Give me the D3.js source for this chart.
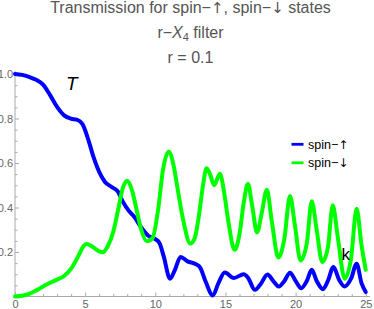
<!DOCTYPE html>
<html><head><meta charset="utf-8">
<script src="https://cdn.jsdelivr.net/npm/d3@7"></script>
<style>body{margin:0;background:#fff}svg{display:block}</style>
</head><body>
<svg id="chart" width="374" height="309"></svg>
<script>
const titleLines = ["Transmission for spin\u2212\u2191, spin\u2212\u2193 states", "r\u2212X4 filter", "r = 0.1"];
const xTicks = [0, 5, 10, 15, 20, 25];
const yTicks = [0.2, 0.4, 0.6, 0.8, 1.0];
const seriesNames = ["spin\u2212\u2191", "spin\u2212\u2193"];
const seriesColors = ["#0000ff", "#00ff00"];

// spin-up transmission [k, T]
const spinUp = [
 [0,1.0],[0.5,0.996],[1.0,0.987],[1.5,0.974],[2.0,0.952],[2.5,0.905],[3.0,0.852],[3.5,0.814],
 [4.0,0.799],[4.4,0.795],[4.8,0.776],[5.2,0.71],[5.6,0.626],[6.0,0.56],[6.4,0.516],[6.9,0.492],
 [7.3,0.474],[7.7,0.425],[8.1,0.386],[8.5,0.358],[9.0,0.31],[9.5,0.273],[10.0,0.258],[10.3,0.24],
 [10.6,0.18],[11.05,0.08],[11.4,0.12],[11.8,0.178],[12.3,0.158],[12.9,0.145],[13.2,0.13],[13.6,0.065],
 [14.1,0.005],[14.5,0.06],[14.95,0.108],[15.6,0.083],[16.3,0.1],[16.6,0.085],[17.1,0.03],[17.5,0.055],
 [18.0,0.099],[18.4,0.07],[18.8,0.045],[19.2,0.07],[19.6,0.107],[20.0,0.07],[20.4,0.037],[20.8,0.07],
 [21.15,0.12],[21.5,0.07],[21.95,0.033],[22.3,0.07],[22.7,0.133],[23.1,0.075],[23.5,0.045],[23.95,0.08],
 [24.35,0.147],[24.7,0.06],[25.0,0.02]
];
// spin-down transmission [k, T]
const spinDown = [
 [0,0.0],[0.5,0.003],[1.0,0.012],[1.5,0.027],[2.0,0.045],[2.5,0.062],[3.0,0.076],[3.5,0.092],
 [4.0,0.125],[4.5,0.18],[4.9,0.228],[5.1,0.236],[5.5,0.225],[6.0,0.203],[6.25,0.199],[6.6,0.225],
 [7.0,0.29],[7.35,0.39],[7.7,0.49],[8.0,0.52],[8.35,0.475],[8.7,0.38],[9.0,0.3],[9.4,0.248],
 [9.8,0.262],[10.2,0.39],[10.55,0.57],[10.95,0.651],[11.3,0.59],[11.6,0.48],[12.0,0.34],[12.5,0.238],
 [12.8,0.26],[13.1,0.36],[13.4,0.5],[13.65,0.576],[13.9,0.55],[14.2,0.5],[14.6,0.552],[14.9,0.47],
 [15.2,0.34],[15.65,0.21],[16.0,0.28],[16.3,0.42],[16.6,0.507],[16.9,0.41],[17.25,0.288],[17.6,0.38],
 [17.95,0.48],[18.3,0.34],[18.77,0.175],[19.2,0.26],[19.6,0.452],[19.95,0.32],[20.35,0.162],[20.8,0.24],
 [21.15,0.428],[21.5,0.3],[21.9,0.155],[22.3,0.22],[22.65,0.41],[23.0,0.27],[23.5,0.08],[23.95,0.17],
 [24.35,0.394],[24.7,0.23],[25.0,0.12]
];

const svg = d3.select("#chart");
const x = d3.scaleLinear().domain([0, 25]).range([15, 365.75]);
const y = d3.scaleLinear().domain([0, 1]).range([296.5, 74]);
const axisColor = "#aaaaaa", labelColor = "#666666";
const font = "'Liberation Sans', Arial, sans-serif";
const arrowFont = "'DejaVu Sans', sans-serif";

// write text where arrows use a font that has full-size arrow glyphs
function richText(sel, str, arrowSize) {
  str.split(/([\u2191\u2193])/).filter(s => s.length).forEach(part => {
    const sp = sel.append("tspan").text(part);
    if (/[\u2191\u2193]/.test(part)) sp.attr("font-family", arrowFont).attr("font-size", arrowSize);
  });
}

// title
const t = svg.append("g").attr("font-family", font).attr("fill", "#555").attr("font-size", 16).attr("text-anchor", "middle");
richText(t.append("text").attr("x", 190.5).attr("y", 13), titleLines[0], 15);
const t2 = t.append("text").attr("x", 190.5).attr("y", 37.5);
t2.append("tspan").text("r\u2212");
t2.append("tspan").attr("font-style", "italic").text("X");
t2.append("tspan").attr("font-size", 11).attr("dy", 3).text("4");
t2.append("tspan").attr("dy", -3).text(" filter");
t.append("text").attr("x", 190.5).attr("y", 63).text(titleLines[2]);

// axes lines
svg.append("line").attr("x1", 15).attr("x2", 370).attr("y1", y(0)).attr("y2", y(0)).attr("stroke", axisColor);
svg.append("line").attr("x1", x(0)).attr("x2", x(0)).attr("y1", y(0)).attr("y2", 71).attr("stroke", axisColor);

const gx = svg.append("g").attr("transform", `translate(0,${y(0)})`)
  .call(d3.axisBottom(x).tickValues(xTicks).tickSize(-4).tickSizeOuter(0).tickPadding(4).tickFormat(d3.format("d")));
const gxm = svg.append("g").attr("transform", `translate(0,${y(0)})`)
  .call(d3.axisBottom(x).tickValues(d3.range(0, 26, 1).filter(v => v % 5)).tickSize(-2.5).tickFormat(""));
const gy = svg.append("g").attr("transform", `translate(${x(0)},0)`)
  .call(d3.axisLeft(y).tickValues(yTicks).tickSize(-4).tickSizeOuter(0).tickPadding(2).tickFormat(d3.format(".1f")));
const gym = svg.append("g").attr("transform", `translate(${x(0)},0)`)
  .call(d3.axisLeft(y).tickValues(d3.range(0.05, 1.0, 0.05).filter(v => Math.abs(v*5 - Math.round(v*5)) > 0.01)).tickSize(-2.5).tickFormat(""));
[gx, gxm, gy, gym].forEach(g => {
  g.select(".domain").remove();
  g.selectAll(".tick line").attr("stroke", axisColor);
  g.selectAll(".tick text").attr("fill", labelColor).attr("font-size", 11).attr("font-family", font);
});

// curves
const line = d3.line().x(d => x(d[0])).y(d => y(d[1])).curve(d3.curveMonotoneX);
[spinUp, spinDown].forEach((s, i) => {
  svg.append("path").datum(s).attr("d", line).attr("fill", "none")
    .attr("stroke", seriesColors[i]).attr("stroke-width", 4).attr("stroke-linejoin", "round").attr("stroke-linecap", "round");
});

// labels
svg.append("text").attr("x", 66).attr("y", 89.5).attr("font-family", font).attr("font-style", "italic").attr("font-size", 19).text("T");
svg.append("text").attr("x", 341.5).attr("y", 259.5).attr("font-family", font).attr("font-size", 17).text("k");

// legend
seriesNames.forEach((n, i) => {
  const ly = 144.3 + i * 18.5;
  svg.append("line").attr("x1", 291.5).attr("x2", 303.5).attr("y1", ly).attr("y2", ly).attr("stroke", seriesColors[i]).attr("stroke-width", 2.8);
  richText(svg.append("text").attr("x", 308).attr("y", ly + 4.5).attr("font-family", font).attr("font-size", 12.5).attr("fill", "#000"), n, 12);
});
</script>
</body></html>
